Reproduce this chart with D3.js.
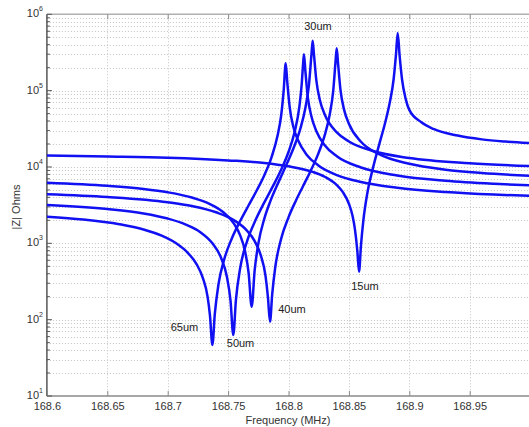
<!DOCTYPE html>
<html>
<head>
<meta charset="utf-8">
<script src="https://cdnjs.cloudflare.com/ajax/libs/d3/7.8.5/d3.min.js"></script>
<style>
  html, body { margin: 0; padding: 0; background: #fff; }
  svg { display: block; font-family: "Liberation Sans", Arial, sans-serif; }
</style>
</head>
<body>
<svg id="chart" width="529" height="427"></svg>
<script>
// ---------------- data ----------------
const xTickValues = [168.6, 168.65, 168.7, 168.75, 168.8, 168.85, 168.9, 168.95];
const xTickLabels = ["168.6", "168.65", "168.7", "168.75", "168.8", "168.85", "168.9", "168.95"];
const yTickExponents = [1, 2, 3, 4, 5, 6];

const freq15 = [168.60,168.65,168.70,168.75,168.78,168.80,168.82,168.83,168.84,168.845,168.85,168.853,168.855,168.857,168.8584,168.860,168.862,168.865,168.870,168.875,168.880,168.884,168.887,168.889,168.8904,168.892,168.894,168.897,168.900,168.910,168.920,168.940,168.960,168.980,169.00];
const z15 = [14100,13700,13200,12200,11300,10200,8640,7450,5790,4680,3300,2290,1520,790,425,940,2010,4300,9800,19500,38000,72000,140000,300000,570000,285000,140000,78000,56000,38500,31500,25800,23000,21500,20500];

const freq30 = [168.60,168.65,168.68,168.70,168.72,168.735,168.745,168.755,168.760,168.764,168.767,168.7695,168.772,168.775,168.780,168.785,168.790,168.795,168.800,168.805,168.810,168.814,168.817,168.819,168.820,168.821,168.823,168.826,168.830,168.840,168.850,168.870,168.900,168.950,169.00];
const z30 = [6200,5660,5150,4660,3980,3270,2630,1800,1270,791,408,148,444,984,2110,3570,5500,8210,12300,19100,32600,59700,122000,296000,450000,308000,138000,74900,48700,28400,21600,16200,13100,11200,10300];

const freq40 = [168.60,168.65,168.70,168.72,168.74,168.755,168.765,168.772,168.777,168.781,168.783,168.7847,168.7865,168.789,168.794,168.800,168.806,168.812,168.818,168.824,168.830,168.834,168.837,168.839,168.8399,168.841,168.843,168.846,168.850,168.860,168.875,168.900,168.930,168.960,169.00];
const z40 = [4400,4050,3460,3080,2550,2000,1500,1070,699,371,195,94,214,482,1160,2190,3590,5590,8680,14100,26100,47700,98600,247000,360000,229000,103000,56400,36900,21400,14700,11000,9210,8330,7680];

const freq50 = [168.60,168.65,168.68,168.70,168.715,168.727,168.737,168.744,168.749,168.752,168.7543,168.7565,168.760,168.766,168.773,168.780,168.787,168.794,168.800,168.805,168.809,168.811,168.812,168.8128,168.814,168.816,168.819,168.823,168.830,168.840,168.860,168.890,168.930,168.970,169.00];
const z50 = [3180,2810,2460,2110,1760,1400,1000,657,365,178,63,183,474,1100,2060,3440,5560,9270,15700,28500,61600,125000,216000,300000,178000,81800,45800,29600,19300,13800,9830,7720,6580,6020,5760];

const freq65 = [168.60,168.63,168.66,168.68,168.695,168.707,168.717,168.724,168.729,168.733,168.735,168.737,168.739,168.742,168.747,168.753,168.760,168.767,168.774,168.780,168.786,168.791,168.794,168.796,168.7977,168.799,168.801,168.804,168.808,168.815,168.825,168.840,168.860,168.890,168.930,168.970,169.00];
const z65 = [2230,2050,1780,1520,1260,1000,740,530,355,200,113,46.7,119,289,635,1150,1960,3150,5030,7820,13500,26000,48300,100000,228000,128000,60400,33700,22200,14500,10400,7840,6360,5340,4700,4350,4180];

const seriesNames = ["15um", "30um", "40um", "50um", "65um"];
const seriesFreqs = [freq15, freq30, freq40, freq50, freq65];
const seriesZ = [z15, z30, z40, z50, z65];

// annotation anchors in data coordinates
const labelText = ["30um", "65um", "50um", "40um", "15um"];
const labelFreq = [168.8244, 168.7139, 168.7603, 168.8029, 168.8633];
const labelZ = [630000, 71, 43.9, 122, 245];

// ---------------- layout ----------------
const svg = d3.select("#chart");
const pL = 46.9, pR = 530.1, pT = 14.3, pB = 396;

const x = d3.scaleLinear().domain([168.6, 169.0]).range([pL, pR]);
const y = d3.scaleLog().domain([10, 1e6]).range([pB, pT]);

// clip
svg.append("defs").append("clipPath").attr("id", "plotclip")
  .append("rect").attr("x", pL).attr("y", pT).attr("width", pR - pL).attr("height", pB - pT);

// grid
const grid = svg.append("g");
const minorVals = [];
for (let e = 1; e < 6; e++) for (let m = 1; m <= 9; m++) minorVals.push(m * Math.pow(10, e));
minorVals.push(1e6);
grid.selectAll("line.h").data(minorVals.slice(1, -1)).join("line")
  .attr("x1", pL).attr("x2", pR)
  .attr("y1", d => Math.round(y(d)) + 0.5).attr("y2", d => Math.round(y(d)) + 0.5)
  .attr("stroke", "#c4c4c4").attr("stroke-width", 1).attr("stroke-dasharray", "1,2");
grid.selectAll("line.v").data(xTickValues.slice(1)).join("line")
  .attr("y1", pT).attr("y2", pB)
  .attr("x1", d => Math.round(x(d)) + 0.5).attr("x2", d => Math.round(x(d)) + 0.5)
  .attr("stroke", "#c4c4c4").attr("stroke-width", 1).attr("stroke-dasharray", "1,2");

// axes box
const axisColor = "#8a8a8a";
svg.append("line").attr("x1", pL).attr("x2", pR).attr("y1", pT).attr("y2", pT).attr("stroke", "#b0b0b0").attr("stroke-width", 1.5);
svg.append("line").attr("x1", pL).attr("x2", pR).attr("y1", pB).attr("y2", pB).attr("stroke", axisColor).attr("stroke-width", 1.5);
svg.append("line").attr("x1", pL).attr("x2", pL).attr("y1", pT).attr("y2", pB).attr("stroke", "#555").attr("stroke-width", 1.5);

// x axis (bottom) using d3 axis with inward ticks
const xAxis = d3.axisBottom(x).tickValues(xTickValues).tickSize(-5).tickPadding(6)
  .tickFormat((d, i) => xTickLabels[i]);
const gx = svg.append("g").attr("transform", `translate(0,${pB})`).call(xAxis);
gx.select(".domain").remove();
gx.selectAll(".tick line").attr("stroke", axisColor);
gx.selectAll(".tick text").attr("font-size", 11).attr("fill", "#333").attr("font-family", "Liberation Sans, Arial, sans-serif");

// top ticks
const gxt = svg.append("g").attr("transform", `translate(0,${pT})`)
  .call(d3.axisTop(x).tickValues(xTickValues).tickSize(-5).tickFormat(""));
gxt.select(".domain").remove();
gxt.selectAll(".tick line").attr("stroke", axisColor);

// y axis ticks: major and minor inward
const gy = svg.append("g");
gy.selectAll("line.minor").data(minorVals).join("line")
  .attr("x1", pL).attr("x2", d => pL + (Math.abs(Math.log10(d) - Math.round(Math.log10(d))) < 1e-9 ? 5 : 3))
  .attr("y1", d => y(d)).attr("y2", d => y(d)).attr("stroke", "#555");

const ylab = gy.selectAll("text.ytl").data(yTickExponents).join("text")
  .attr("x", 43).attr("y", d => y(Math.pow(10, d)) + 3)
  .attr("text-anchor", "end").attr("font-size", 11).attr("fill", "#333");
ylab.append("tspan").text("10");
ylab.append("tspan").attr("font-size", 7).attr("dy", -6).text(d => d);

// axis labels
svg.append("text").attr("x", 288).attr("y", 424).attr("text-anchor", "middle")
  .attr("font-size", 11).attr("fill", "#333").text("Frequency (MHz)");
svg.append("text").attr("transform", "translate(20,207) rotate(-90)").attr("text-anchor", "middle")
  .attr("font-size", 11).attr("fill", "#333").text("|Z| Ohms");

// curves
const line = d3.line().x(d => x(d[0])).y(d => y(d[1])).curve(d3.curveMonotoneX);
const plot = svg.append("g").attr("clip-path", "url(#plotclip)");
seriesNames.forEach((name, i) => {
  const pts = seriesFreqs[i].map((f, j) => [f, seriesZ[i][j]]);
  plot.append("path").datum(pts).attr("d", line)
    .attr("fill", "none").attr("stroke", "#1010f2").attr("stroke-width", 2.5)
    .attr("stroke-linejoin", "round");
});

// annotations
svg.selectAll("text.ann").data(labelText).join("text")
  .attr("x", (d, i) => x(labelFreq[i])).attr("y", (d, i) => y(labelZ[i]))
  .attr("text-anchor", "middle").attr("font-size", 11).attr("fill", "#222").text(d => d);
</script>
</body>
</html>
